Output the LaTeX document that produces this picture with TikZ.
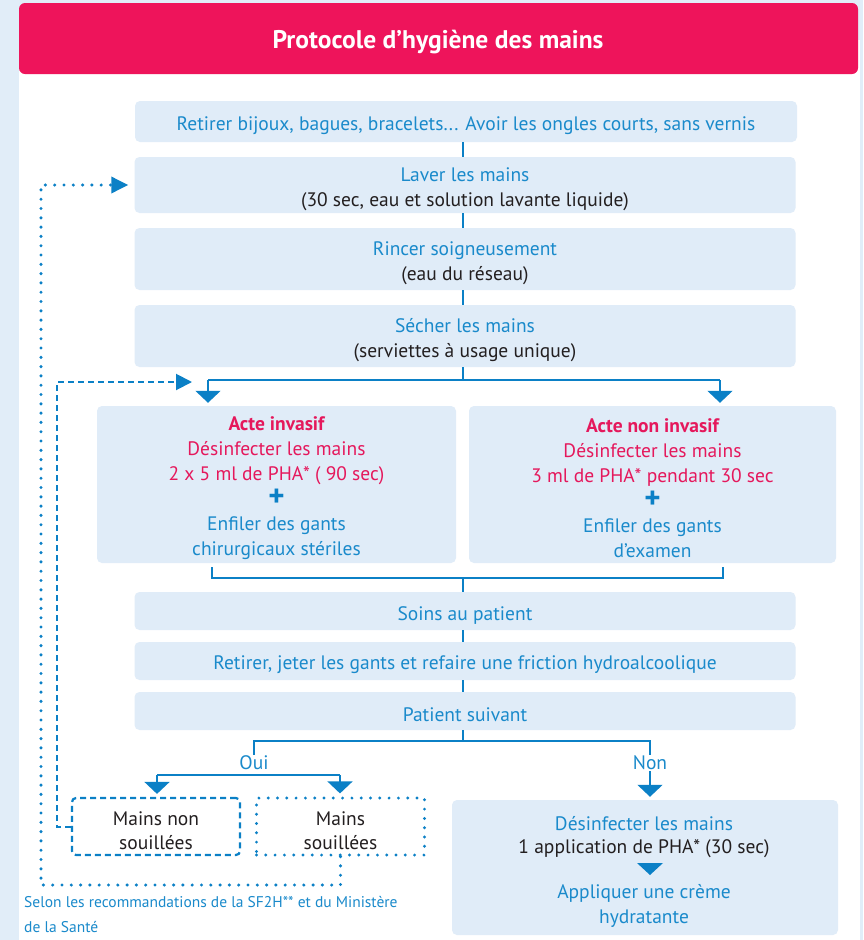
\documentclass[tikz,border=0pt]{standalone}
\usepackage{fontspec}
\setmainfont{PT Sans}
\usetikzlibrary{arrows.meta}

\definecolor{pagebg}{HTML}{E1EDF8}
\definecolor{boxfill}{HTML}{E0ECF8}
\definecolor{titlered}{HTML}{EE145B}
\definecolor{pinktxt}{HTML}{E5185C}
\definecolor{bluetxt}{HTML}{1A8ACB}
\definecolor{lineblue}{HTML}{0B80C6}
\definecolor{darktxt}{HTML}{231F20}

% a tall strut on the first line pushes the text block slightly downwards
\newcommand\firstlinestrut{\rule{0pt}{22pt}}
% the heavy plus sign between the two instructions of an act
\newcommand\plussign{{\color{lineblue}\fontsize{31}{25}\selectfont\bfseries\raisebox{-1pt}{+}}}

\tikzset{
  x=1pt, y=-1pt,
  stepbox/.style={fill=boxfill, rounded corners=5pt, inner sep=0pt, align=center,
    text=bluetxt, font=\fontsize{19.5}{25}\selectfont},
  link/.style={draw=lineblue, line width=1.6pt},
  downtip/.style={-{Triangle[width=25pt,length=12pt]}, shorten >=3pt},
  dashlink/.style={draw=lineblue, line width=2pt, dash pattern=on 6pt off 4pt,
    -{Triangle[width=16pt,length=16pt]}},
  dotlink/.style={draw=lineblue, line width=3.4pt, line cap=round,
    dash pattern=on 0pt off 9.3pt, -{Triangle[width=16pt,length=17pt]}},
  choice/.style={inner sep=0pt, align=center, text=darktxt,
    font=\fontsize{19.5}{24}\selectfont, minimum width=168pt, minimum height=57pt},
  lbl/.style={inner sep=1pt, text=bluetxt, font=\fontsize{19.5}{22}\selectfont},
}

\begin{document}
\begin{tikzpicture}
\useasboundingbox (0,0) rectangle (863,940);

% page frame and title bar
\fill[pagebg] (0,0) rectangle (863,940);
\fill[white] (19,40) rectangle (860,940);
\fill[titlered, rounded corners=6pt] (19,3) rectangle (858,74);
\node[text=white, font=\fontsize{25.5}{28}\selectfont\bfseries] (title) at (438,42)
  {Protocole d’hygiène des mains};

\coordinate (spine) at (463,0);

% main sequence
\node[stepbox, minimum width=662pt, minimum height=41pt] (b1) at (466,121.5)
  {\firstlinestrut Retirer bijoux, bagues, bracelets... Avoir les ongles courts, sans vernis};
\node[stepbox, minimum width=661pt, minimum height=56pt] (b2) at (465,185)
  {\firstlinestrut Laver les mains\\ \textcolor{darktxt}{(30 sec, eau et solution lavante liquide)}};
\node[stepbox, minimum width=661pt, minimum height=62pt] (b3) at (465,259)
  {\firstlinestrut Rincer soigneusement\\ \textcolor{darktxt}{(eau du réseau)}};
\node[stepbox, minimum width=661pt, minimum height=62pt] (b4) at (465,336)
  {\firstlinestrut Sécher les mains\\ \textcolor{darktxt}{(serviettes à usage unique)}};

% the two kinds of act
\node[stepbox, minimum width=359pt, minimum height=157pt] (b5) at (276.5,484.5)
  {\firstlinestrut{\bfseries\color{pinktxt}Acte invasif}\\
   \textcolor{pinktxt}{Désinfecter les mains}\\
   \textcolor{pinktxt}{2 x 5 ml de PHA* ( 90 sec)}\\
   \plussign\\
   Enfiler des gants\\
   chirurgicaux stériles};
\node[stepbox, minimum width=367pt, minimum height=157pt] (b6) at (652.5,484.5)
  {\firstlinestrut{\bfseries\color{pinktxt}Acte non invasif}\\
   \textcolor{pinktxt}{Désinfecter les mains}\\
   \textcolor{pinktxt}{3 ml de PHA* pendant 30 sec}\\
   \plussign\\
   Enfiler des gants\\
   d’examen};

\node[stepbox, minimum width=661pt, minimum height=38pt] (b7) at (465,611)
  {\firstlinestrut Soins au patient};
\node[stepbox, minimum width=661pt, minimum height=38pt] (b8) at (465,661)
  {\firstlinestrut Retirer, jeter les gants et refaire une friction hydroalcoolique};
\node[stepbox, minimum width=661pt, minimum height=38pt] (b9) at (465,711)
  {\firstlinestrut Patient suivant};

% answers
\node[lbl] (oui) at (254,763) {Oui};
\node[lbl] (non) at (650,763) {Non};

\node[choice, draw=lineblue, line width=2.2pt, dash pattern=on 6pt off 4pt,
  rounded corners=4pt] (mnon) at (156,826.5) {\firstlinestrut Mains non\\ souillées};
\node[choice, draw=lineblue, line width=3.2pt, line cap=round,
  dash pattern=on 0pt off 9.3pt] (msou) at (340.5,826.5) {\firstlinestrut Mains\\ souillées};

% final box: disinfect then moisturise
\node[fill=boxfill, rounded corners=5pt, minimum width=386pt, minimum height=135pt,
  inner sep=0pt] (b10) at (645,867.5) {};
\node[lbl] (f1) at (644,823.5) {Désinfecter les mains};
\node[lbl, text=darktxt] (f2) at (644,848.5) {1 application de PHA* (30 sec)};
\node[lbl] (f3) at (644,893.5) {Appliquer une crème};
\node[lbl] (f4) at (644,918.5) {hydratante};
\fill[lineblue] (637,863) -- (663,863) -- (650,875) -- cycle;

% footnote
\node[anchor=west, inner sep=0pt, text=bluetxt, align=left,
  font=\fontsize{15.5}{25}\selectfont] (note) at (24,914.5)
  {Selon les recommandations de la SF2H** et du Ministère\\ de la Santé};

% vertical spine through the sequence
\draw[link] (b1.south -| spine) -- (b2.north -| spine);
\draw[link] (b2.south -| spine) -- (b3.north -| spine);
\draw[link] (b3.south -| spine) -- (b4.north -| spine);

% split towards the two acts
\coordinate (split) at (463,380);
\coordinate (inl) at (208,380);
\coordinate (inr) at (720,380);
\draw[link] (b4.south -| spine) -- (split);
\draw[link] (inl) -- (inr);
\draw[link, downtip] (inl) -- (inl |- b5.north);
\draw[link, downtip] (inr) -- (inr |- b6.north);

% merge back to the care step
\coordinate (ml) at (212,578);
\coordinate (mr) at (723,578);
\coordinate (mc) at (463,578);
\draw[link] (212,567) -- (ml) -- (mr) -- (723,567);
\draw[link] (mc) -- (b7.north -| spine);
\draw[link] (b7.south -| spine) -- (b8.north -| spine);
\draw[link] (b8.south -| spine) -- (b9.north -| spine);

% next patient: yes / no
\coordinate (fork) at (463,741);
\draw[link] (b9.south -| spine) -- (fork);
\draw[link] (oui.north) |- (fork) -| (non.north);

\coordinate (ol) at (157,775);
\coordinate (or) at (340,775);
\draw[link] (ol) -- (or);
\draw[link, downtip] (ol) -- (ol |- mnon.north);
\draw[link, downtip] (or) -- (or |- msou.north);
\draw[link, downtip] (non.south) -- (non.south |- b10.north);

% return paths
\coordinate (dashend) at (192,382);
\draw[dashlink] (mnon.west) -- ++(-14,0) |- (dashend);
\coordinate (dotcorner) at (41,885);
\draw[dotlink, shorten >=6pt] (msou.south) |- (dotcorner) |- (b2.west);
\end{tikzpicture}
\end{document}
